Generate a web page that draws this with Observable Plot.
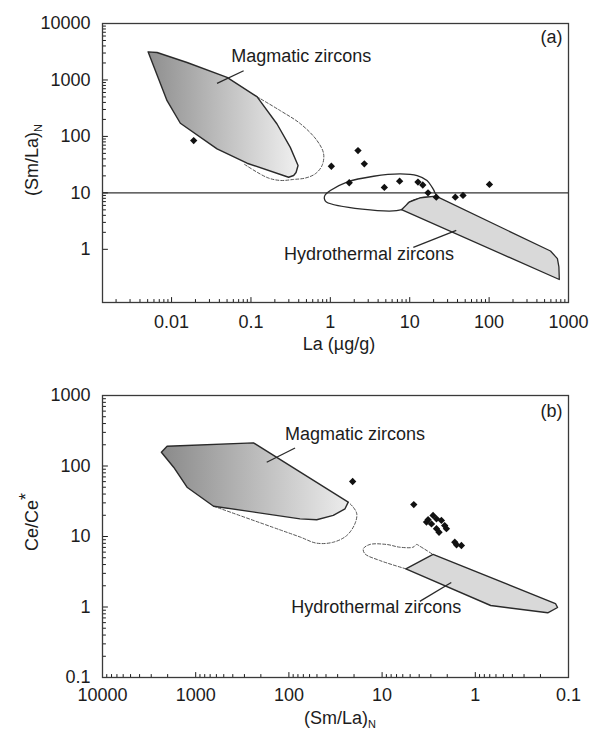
<!DOCTYPE html>
<html>
<head>
<meta charset="utf-8">
<script src="https://cdn.jsdelivr.net/npm/d3@7"></script>
<script src="https://cdn.jsdelivr.net/npm/@observablehq/plot@0.6"></script>
<style>
  body { margin: 0; background: #fff; }
  #chart { width: 599px; }
  #chart svg { display: block; }
</style>
</head>
<body>
<div id="chart"></div>
<script>
// ---------- Panel (a): (Sm/La)N against La (µg/g) ----------
const magA_La    = [0.00506, 0.00656, 0.01567, 0.05, 0.119, 0.213, 0.313, 0.392, 0.37, 0.345, 0.298, 0.0893, 0.0374, 0.0129, 0.00877];
const magA_SmLa  = [3150, 3060, 2040, 1107, 505, 166, 64, 30.5, 23, 20.3, 18.9, 33.5, 60, 171, 429];
const magDashA_La   = [0.119, 0.234, 0.419, 0.680, 0.823, 0.786, 0.647, 0.484, 0.345, 0.234, 0.160, 0.081];
const magDashA_SmLa = [505, 286, 168, 84.3, 49.1, 30.5, 21.8, 18.3, 17.3, 16.6, 18.7, 32.7];
const openA_La   = [0.89, 7.88, 9.86, 13.7, 21.4, 20.7, 19.1, 16.5, 12.4, 7.61, 3.51, 1.62, 1.0, 0.853, 0.84];
const openA_SmLa = [6.9, 5.03, 6.85, 8.19, 8.74, 10.2, 12.6, 16.6, 20.3, 21.7, 19.7, 15.5, 11.0, 9.0, 7.96];
const hydA_La    = [7.88, 9.86, 13.7, 21.4, 593, 725, 757, 766];
const hydA_SmLa  = [5.03, 6.85, 8.19, 8.74, 0.933, 0.685, 0.487, 0.292];
const samplesA_La   = [0.019, 1.03, 2.23, 2.68, 1.73, 4.79, 7.46, 12.7, 14.6, 17.0, 21.6, 37.5, 46.9, 101];
const samplesA_SmLa = [84.3, 29.6, 56.1, 32.7, 15.1, 12.5, 16.1, 15.5, 13.8, 10.0, 8.4, 8.4, 9.0, 14.1];
const refLineA = [10];
const fieldNames = ["Magmatic zircons", "Hydrothermal zircons"];
const namesA_La   = [0.0566, 0.26];
const namesA_SmLa = [2678, 0.833];
const pointerA_La1 = [0.0809, 11.1], pointerA_SmLa1 = [1455, 1.08];
const pointerA_La2 = [0.0374, 38.6], pointerA_SmLa2 = [867, 2.17];
const xTicksA  = [0.01, 0.1, 1, 10, 100, 1000];
const xLabelsA = ["0.01", "0.1", "1", "10", "100", "1000"];
const yTicksA  = [1, 10, 100, 1000, 10000];
const yLabelsA = ["1", "10", "100", "1000", "10000"];

// ---------- Panel (b): Ce/Ce* against (Sm/La)N ----------
const magB_SmLa  = [2335, 2028, 240, 23.1, 25.0, 33.4, 50.3, 75.9, 643, 1239, 1725];
const magB_Ce    = [157, 191, 213, 30.7, 24.7, 19.9, 17.3, 17.8, 26.9, 50.0, 96.2];
const magDashB_SmLa = [643, 124, 75.9, 50.3, 33.4, 24.0, 19.6, 18.7, 20.7, 23.1];
const magDashB_Ce   = [26.9, 12.4, 9.84, 8.04, 8.30, 10.3, 15.1, 21.0, 26.7, 30.7];
const loopB_SmLa = [5.56, 10.6, 15.3, 15.9, 13.5, 8.96, 6.45, 4.65, 4.27, 3.94, 2.84];
const loopB_Ce   = [3.48, 4.57, 5.69, 6.70, 7.71, 7.71, 7.05, 7.05, 7.71, 7.28, 5.56];
const hydB_SmLa  = [5.56, 2.84, 0.138, 0.131, 0.167, 0.684];
const hydB_Ce    = [3.48, 5.56, 1.12, 0.984, 0.828, 1.05];
const samplesB_SmLa = [20.7, 4.57, 3.21, 2.84, 2.61, 2.31, 2.95, 3.34, 2.61, 2.13, 2.04, 2.45, 1.66, 1.41, 1.59];
const samplesB_Ce   = [60.3, 28.4, 17.3, 19.9, 17.8, 16.9, 15.1, 16.0, 12.9, 14.3, 12.9, 11.5, 8.30, 7.45, 7.62];
const namesB_SmLa = [110, 94.2];
const namesB_Ce   = [278, 0.986];
const pointerB_SmLa1 = [173, 3.94], pointerB_Ce1 = [113, 1.20];
const pointerB_SmLa2 = [85.9, 1.81], pointerB_Ce2 = [180, 2.23];
const xTicksB  = [10000, 1000, 100, 10, 1, 0.1];
const xLabelsB = ["10000", "1000", "100", "10", "1", "0.1"];
const yTicksB  = [0.1, 1, 10, 100, 1000];
const yLabelsB = ["0.1", "1", "10", "100", "1000"];

// ---------- helpers ----------
const ink = "#1c1c1c";
const font = "'Liberation Sans', Arial, Helvetica, sans-serif";
const rows = (xs, ys) => xs.map((x, i) => ({x, y: ys[i]}));
const minors = (lo, hi) => {
  const out = [];
  for (let e = lo; e < hi; e++) for (let k = 2; k <= 9; k++) out.push(+(k * 10 ** e).toPrecision(6));
  return out;
};
// inward tick: a short stroke from the frame edge into the plot
const tickShape = {draw(ctx, l) { ctx.moveTo(0, 0); ctx.lineTo(0, -l); }};
const ticksX = (values, len) => Plot.vector(values, {x: d => d, frameAnchor: "bottom", rotate: 0, length: len, anchor: "start", shape: tickShape, stroke: ink, strokeWidth: 1});
const ticksY = (values, len) => Plot.vector(values, {y: d => d, frameAnchor: "left", rotate: 90, length: len, anchor: "start", shape: tickShape, stroke: ink, strokeWidth: 1});
const labelsX = (ticks, labels, pad) => {
  const m = new Map(ticks.map((t, i) => [t, labels[i]]));
  return Plot.axisX({ticks, tickSize: 0, tickPadding: pad, tickFormat: d => m.get(d), fontSize: 18, label: null});
};
const labelsY = (ticks, labels) => {
  const m = new Map(ticks.map((t, i) => [t, labels[i]]));
  return Plot.axisY({ticks, tickSize: 0, tickPadding: 12, tickFormat: d => m.get(d), fontSize: 18, label: null});
};
const links = (x1, y1, x2, y2) => x1.map((_, i) => ({x1: x1[i], y1: y1[i], x2: x2[i], y2: y2[i]}));
const names = (xs, ys) => xs.map((x, i) => ({x, y: ys[i], t: fieldNames[i]}));

function addGradient(svg, id, from, to) {
  const g = d3.select(svg).insert("defs", ":first-child")
    .append("linearGradient").attr("id", id)
    .attr("x1", "0").attr("y1", "0").attr("x2", "1").attr("y2", "0");
  g.append("stop").attr("offset", "0").attr("stop-color", from);
  g.append("stop").attr("offset", "1").attr("stop-color", to);
}

function addTitle(svg, x, y, rotate, main, sub, subKind) {
  const t = d3.select(svg).append("text")
    .attr("transform", `translate(${x},${y}) rotate(${rotate})`)
    .attr("text-anchor", "middle")
    .attr("font-family", font).attr("font-size", 18).attr("fill", ink);
  t.append("tspan").text(main);
  if (subKind === "sub") t.append("tspan").attr("font-size", 11).attr("dy", 4).text(sub);
  else if (subKind === "sup") t.append("tspan").attr("font-size", 18).attr("dy", -6).text(sub);
}

const common = {
  width: 599, marginLeft: 102, marginRight: 31,
  style: {fontFamily: font, fontSize: "18px", color: ink, background: "#fff", overflow: "visible"}
};

// ---------- panel (a) ----------
const plotA = Plot.plot({
  ...common,
  height: 365, marginTop: 23, marginBottom: 63,
  x: {type: "log", domain: [10 ** -2.87, 1000]},
  y: {type: "log", domain: [0.1143, 10000]},
  marks: [
    Plot.ruleY(refLineA, {stroke: "#333", strokeWidth: 1.3}),
    Plot.line(rows(magDashA_La, magDashA_SmLa), {x: "x", y: "y", curve: "catmull-rom", stroke: "#555", strokeWidth: 1, strokeDasharray: "3,2"}),
    Plot.line(rows(magA_La, magA_SmLa), {x: "x", y: "y", curve: "linear-closed", fill: "url(#magGradA)", stroke: "#2a2a2a", strokeWidth: 1.4}),
    Plot.line(rows(openA_La, openA_SmLa), {x: "x", y: "y", curve: "catmull-rom-closed", fill: "none", stroke: "#2a2a2a", strokeWidth: 1.3}),
    Plot.line(rows(hydA_La, hydA_SmLa), {x: "x", y: "y", curve: "linear-closed", fill: "#d9d9d9", stroke: "#2a2a2a", strokeWidth: 1.3}),
    Plot.dot(rows(samplesA_La, samplesA_SmLa), {x: "x", y: "y", symbol: "diamond2", r: 3.3, fill: "#111", stroke: "none"}),
    Plot.link(links(pointerA_La1, pointerA_SmLa1, pointerA_La2, pointerA_SmLa2), {x1: "x1", y1: "y1", x2: "x2", y2: "y2", stroke: "#2a2a2a", strokeWidth: 1.3}),
    Plot.text(names(namesA_La, namesA_SmLa), {x: "x", y: "y", text: "t", textAnchor: "start", fontSize: 18, fill: ink}),
    Plot.text(["(a)"], {text: d => d, frameAnchor: "top-right", dx: -6, dy: 14, lineAnchor: "middle", textAnchor: "end", fontSize: 18, fill: ink}),
    ticksX(xTicksA, 5), ticksX(minors(-3, 3), 3),
    ticksY(yTicksA, 5), ticksY(minors(0, 4), 3),
    labelsX(xTicksA, xLabelsA, 13),
    labelsY(yTicksA, yLabelsA),
    Plot.frame({stroke: "#3a3a3a", strokeWidth: 1.3})
  ]
});
addGradient(plotA, "magGradA", "#8e8e8e", "#f0f0f0");
addTitle(plotA, 339, 350, 0, "La (\u00b5g/g)", "", "none");
addTitle(plotA, 38, 160, -90, "(Sm/La)", "N", "sub");

// ---------- panel (b) ----------
const plotB = Plot.plot({
  ...common,
  height: 366, marginTop: 30, marginBottom: 54,
  x: {type: "log", domain: [10000, 0.1]},
  y: {type: "log", domain: [0.1, 1000]},
  marks: [
    Plot.line(rows(magDashB_SmLa, magDashB_Ce), {x: "x", y: "y", curve: "catmull-rom", stroke: "#555", strokeWidth: 1, strokeDasharray: "3,2"}),
    Plot.line(rows(loopB_SmLa, loopB_Ce), {x: "x", y: "y", curve: "catmull-rom", stroke: "#555", strokeWidth: 1, strokeDasharray: "3,2"}),
    Plot.line(rows(magB_SmLa, magB_Ce), {x: "x", y: "y", curve: "linear-closed", fill: "url(#magGradB)", stroke: "#2a2a2a", strokeWidth: 1.4}),
    Plot.line(rows(hydB_SmLa, hydB_Ce), {x: "x", y: "y", curve: "linear-closed", fill: "#d9d9d9", stroke: "#2a2a2a", strokeWidth: 1.4}),
    Plot.dot(rows(samplesB_SmLa, samplesB_Ce), {x: "x", y: "y", symbol: "diamond2", r: 3.3, fill: "#111", stroke: "none"}),
    Plot.link(links(pointerB_SmLa1, pointerB_Ce1, pointerB_SmLa2, pointerB_Ce2), {x1: "x1", y1: "y1", x2: "x2", y2: "y2", stroke: "#2a2a2a", strokeWidth: 1.3}),
    Plot.text(names(namesB_SmLa, namesB_Ce), {x: "x", y: "y", text: "t", textAnchor: "start", fontSize: 18, fill: ink}),
    Plot.text(["(b)"], {text: d => d, frameAnchor: "top-right", dx: -6, dy: 16, lineAnchor: "middle", textAnchor: "end", fontSize: 18, fill: ink}),
    ticksX(xTicksB, 5), ticksX(minors(-1, 4), 3),
    ticksY(yTicksB, 5), ticksY(minors(-1, 3), 3),
    labelsX(xTicksB, xLabelsB, 11),
    labelsY(yTicksB, yLabelsB),
    Plot.frame({stroke: "#3a3a3a", strokeWidth: 1.3})
  ]
});
addGradient(plotB, "magGradB", "#8a8a8a", "#ececec");
addTitle(plotB, 340, 359, 0, "(Sm/La)", "N", "sub");
addTitle(plotB, 38, 157, -90, "Ce/Ce", "*", "sup");

document.getElementById("chart").append(plotA, plotB);
</script>
</body>
</html>
